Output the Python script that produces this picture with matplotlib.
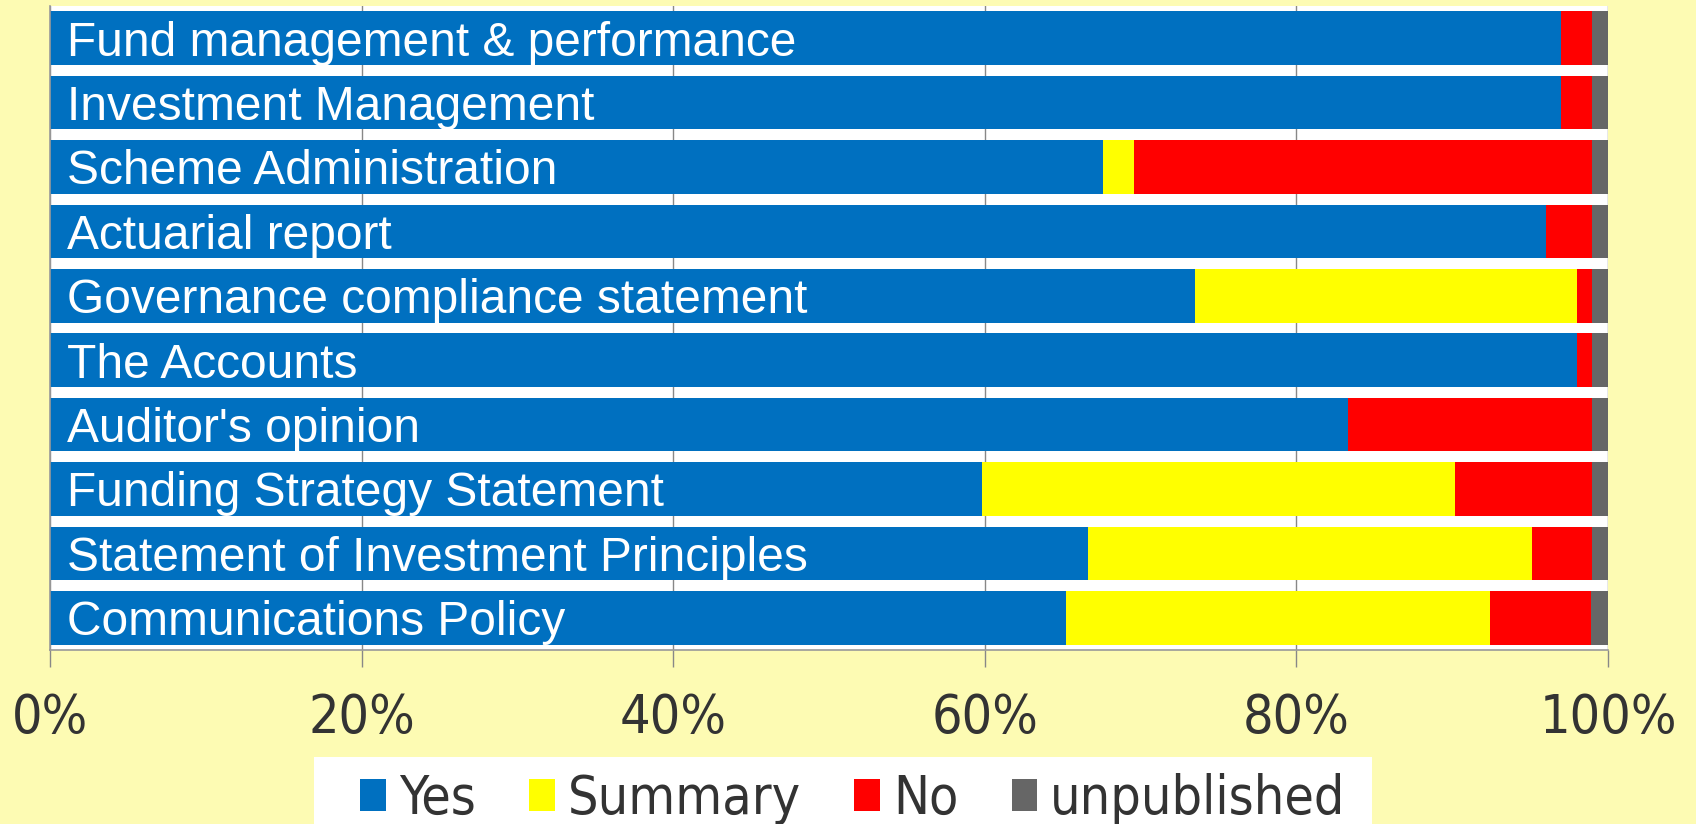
import matplotlib
matplotlib.use("Agg")
import matplotlib.pyplot as plt
from matplotlib.patches import Patch, Rectangle
import numpy as np

categories = [
    "Fund management & performance",
    "Investment Management",
    "Scheme Administration",
    "Actuarial report",
    "Governance compliance statement",
    "The Accounts",
    "Auditor's opinion",
    "Funding Strategy Statement",
    "Statement of Investment Principles",
    "Communications Policy",
]
yes_pct = [97.0, 97.0, 67.6, 96.0, 73.5, 98.0, 83.3, 59.8, 66.6, 65.2]
summary_pct = [0.0, 0.0, 2.0, 0.0, 24.5, 0.0, 0.0, 30.4, 28.5, 27.2]
no_pct = [2.0, 2.0, 29.4, 3.0, 1.0, 1.0, 15.7, 8.8, 3.9, 6.5]
unpublished_pct = [1.0, 1.0, 1.0, 1.0, 1.0, 1.0, 1.0, 1.0, 1.0, 1.1]
series_names = ["Yes", "Summary", "No", "unpublished"]
series_colors = ["#0070C0", "#FFFF00", "#FF0000", "#666666"]
x_ticks = [0, 20, 40, 60, 80, 100]
x_tick_labels = ["0%", "20%", "40%", "60%", "80%", "100%"]

W, H = 1696, 824
bg = "#FDFBB3"
fig = plt.figure(figsize=(W / 100, H / 100), dpi=100, facecolor=bg)
ax = fig.add_axes([50 / W, 1 - 650 / H, (1608 - 50) / W, (650 - 6) / H])
ax.set_facecolor("white")

y = np.arange(len(categories))
series = [yes_pct, summary_pct, no_pct, unpublished_pct]
left = np.zeros(len(categories))
for vals, name, col in zip(series, series_names, series_colors):
    v = np.array(vals)
    ax.barh(y, v, left=left, height=0.83, color=col, label=name, zorder=2, linewidth=0)
    left += v

for i, cat in enumerate(categories):
    ax.annotate(cat, xy=(0, i), xytext=(12.5, 0), textcoords="offset points",
                ha="left", va="center_baseline", color="white",
                fontsize=34.5, family=["Liberation Sans", "DejaVu Sans"], zorder=3)

tick_font = dict(family="DejaVu Sans", stretch="condensed")

ax.set_xlim(0, 100)
ax.set_ylim(len(categories) - 0.5, -0.5)
ax.set_yticks([])
ax.set_xticks(x_ticks)
ax.set_xticklabels(x_tick_labels, fontsize=38.5, color="#333333", **tick_font)
ax.tick_params(axis="x", length=12, width=1, color="#888888", pad=18, direction="out")
ax.xaxis.grid(True, color="#888888", linewidth=1, zorder=1)
ax.set_axisbelow(True)
for s in ["top", "right"]:
    ax.spines[s].set_visible(False)
for s in ["left", "bottom"]:
    ax.spines[s].set_color("#999999")
    ax.spines[s].set_linewidth(1.2)

# legend box
fig.patches.append(Rectangle((314 / W, 0), (1372 - 314) / W, 67 / H,
                             transform=fig.transFigure, facecolor="white",
                             edgecolor="none", zorder=0))
handles = [Patch(facecolor=c, edgecolor="none") for c in series_colors]
leg = fig.legend(handles, series_names, loc="center",
                 bbox_to_anchor=((314 + 1372) / 2 / W + 10 / W, 25 / H),
                 ncol=4, frameon=False,
                 prop=dict(size=38.5, **tick_font),
                 handlelength=0.48, handleheight=0.55, handletextpad=0.24,
                 columnspacing=1.0, borderpad=0)
for t in leg.get_texts():
    t.set_color("#333333")

fig.savefig("out.png", dpi=100, facecolor=bg)
